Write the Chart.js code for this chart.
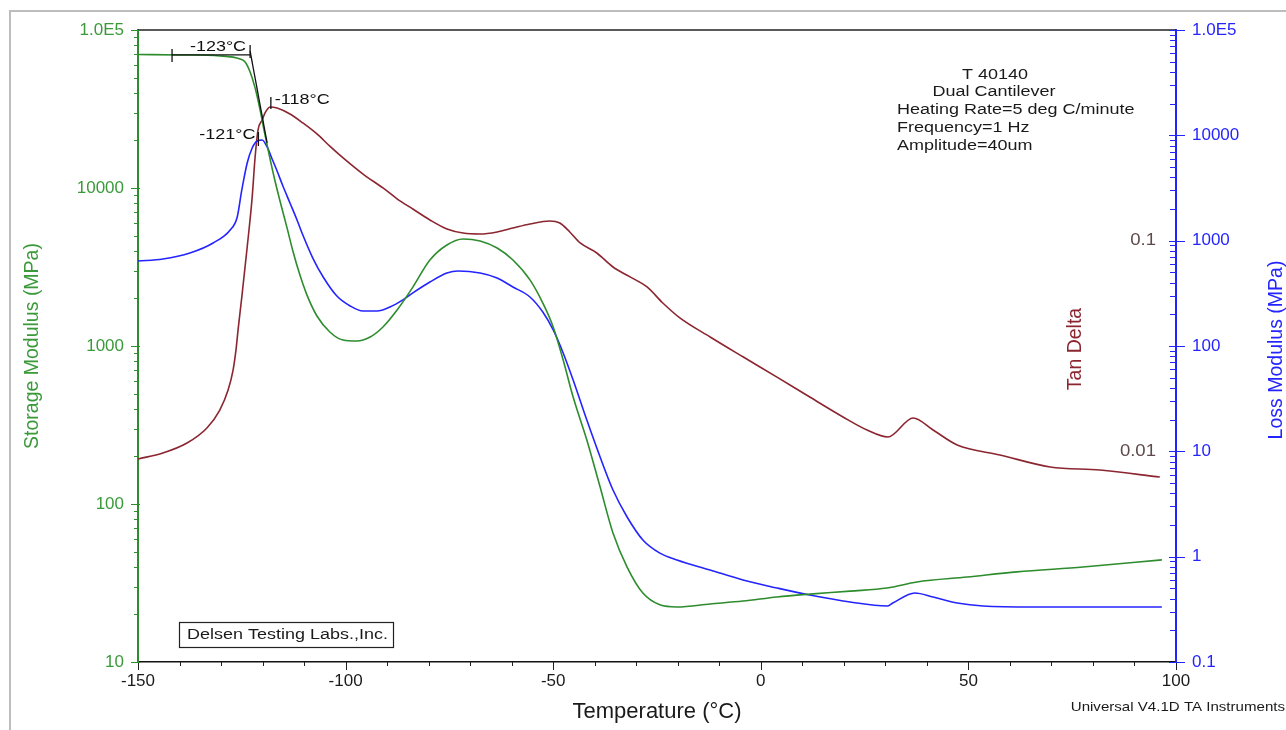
<!DOCTYPE html>
<html>
<head>
<meta charset="utf-8">
<title>DMA T 40140</title>
<script src="https://cdn.jsdelivr.net/npm/chart.js@4.4.1/dist/chart.umd.min.js"></script>
<style>
  html, body { margin: 0; padding: 0; background: #fff; }
  #wrap { position: relative; width: 1286px; height: 730px; }
</style>
</head>
<body>
<div id="wrap"><canvas id="dmaChart" width="1286" height="730"></canvas></div>
<script>
// Storage modulus (MPa), left axis
var storageTemp = [-150, -139.9, -130.3, -125.4, -124.2, -123.0, -121.8, -120.6, -119.4, -118.2,
  -117.0, -115.8, -114.1, -112.7, -111.0, -109.3, -106.9, -103.8, -100.6, -97.3,
  -94.1, -91.0, -87.6, -83.8, -79.7, -75.6, -71.7, -67.6, -63.5, -59.7,
  -55.6, -52.5, -50.0, -47.6, -45.2, -41.9, -38.7, -35.6, -32.2, -28.4,
  -24.3, -20.2, -12.2, -4.3, 3.9, 11.8, 21.5, 30.4, 37.6, 49.7,
  61.7, 77.6, 96.6];
var storageMPa = [70000, 69500, 68500, 65500, 62700, 54200, 43000, 31200, 21600, 15270,
  11070, 8280, 5590, 3990, 2810, 2100, 1549, 1227, 1090, 1075,
  1140, 1320, 1690, 2360, 3500, 4360, 4760, 4620, 4170, 3500,
  2620, 1870, 1320, 815, 475, 254, 128, 65.5, 39.9, 27.3,
  23.0, 22.3, 23.3, 24.3, 25.8, 26.9, 28.1, 29.4, 32.1, 34.5,
  37.2, 39.9, 44.3];

// Loss modulus (MPa), right axis
var lossTemp = [-150, -144.0, -137.5, -131.9, -127.8, -126.1, -125.0, -123.7, -122.5, -121.3,
  -120.1, -118.9, -117.7, -116.5, -115.1, -113.4, -111.7, -110.3, -107.9, -105.4,
  -102.1, -98.9, -95.8, -92.4, -89.3, -86.2, -83.8, -79.7, -75.6, -72.9,
  -67.6, -63.5, -59.7, -55.6, -52.5, -50.0, -47.6, -45.2, -41.9, -38.7,
  -35.6, -32.2, -28.4, -24.3, -20.2, -12.2, -4.3, 3.9, 11.8, 21.5,
  30.4, 31.8, 37.1, 41.5, 47.3, 53.5, 65.6, 96.6];
var lossMPa = [641, 670, 764, 951, 1263, 1678, 3030, 5460, 7580, 8840,
  9030, 7750, 5960, 4580, 3300, 2280, 1571, 1132, 684, 452,
  298, 240, 215, 215, 235, 274, 319, 405, 493, 516,
  493, 442, 363, 292, 210, 142, 85.8, 47.5, 19.8, 8.83,
  4.29, 2.38, 1.44, 1.08, 0.93, 0.747, 0.600, 0.504, 0.432, 0.371,
  0.340, 0.363, 0.452, 0.414, 0.363, 0.340, 0.333, 0.333];

// Tan delta
var tanTemp = [-150, -144.0, -138.2, -133.4, -130.3, -128.3, -127.1, -126.4, -125.9, -125.0,
  -123.7, -122.5, -121.8, -121.1, -120.1, -119.4, -118.2, -116.5, -113.4, -110.3,
  -106.9, -103.8, -100.6, -95.8, -91.0, -87.6, -83.8, -79.7, -75.6, -71.7,
  -67.6, -63.5, -59.7, -55.6, -50.8, -48.4, -46.0, -43.5, -39.5, -35.6,
  -31.5, -27.4, -23.6, -19.5, -12.2, -4.3, 3.9, 11.8, 19.8, 25.6,
  30.6, 36.7, 41.5, 47.3, 57.6, 69.7, 81.7, 96.1];
var tanDelta = [0.0092, 0.00982, 0.01095, 0.01291, 0.01571, 0.01954, 0.02432, 0.0303, 0.0377, 0.054,
  0.0933, 0.161, 0.249, 0.335, 0.374, 0.404, 0.431, 0.426, 0.399, 0.362,
  0.321, 0.281, 0.247, 0.207, 0.178, 0.158, 0.1413, 0.1254, 0.1136, 0.1087,
  0.1076, 0.1100, 0.1148, 0.1200, 0.1240, 0.1213, 0.1100, 0.0975, 0.0874, 0.0750,
  0.0673, 0.0603, 0.0506, 0.0430, 0.0349, 0.0281, 0.0225, 0.0181, 0.01456, 0.01262,
  0.01169, 0.01440, 0.01262, 0.01072, 0.00961, 0.00843, 0.00815, 0.00755];

// tick labels
var storageTicks = [10, 100, 1000, 10000, 100000];
var lossTicks = [0.1, 1, 10, 100, 1000, 10000, 100000];
var tanTicks = [0.1, 0.01];

// transition markers
var onsetTemp = -123, onsetStart = -141.8, onsetLevel = 69500;
var tangentFrom = [-123, 73600], tangentTo = [-118.9, 19300];
var tanPeakTemp = -118, tanPeakValue = 0.431;
var lossPeakTemp = -121, lossPeakValue = 9030;

var infoLines = ['T 40140', 'Dual Cantilever', 'Heating Rate=5 deg C/minute', 'Frequency=1 Hz', 'Amplitude=40um'];

var GREEN = '#2d8c2d', BLUE = '#2424ff', MAROON = '#8b2630';
var FONT = '"Liberation Sans", Arial, sans-serif';
var STRETCH = 1.16; // the screenshot text is a bit wide

function pairs(xs, ys) {
  return xs.map(function (x, i) { return { x: x, y: ys[i] }; });
}

function sciLabel(v) {
  if (v >= 100000) return '1.0E5';
  return String(v);
}

function wideText(ctx, text, x, y, align) {
  ctx.save();
  ctx.translate(x, y);
  ctx.scale(STRETCH, 1);
  ctx.textAlign = align || 'left';
  ctx.fillText(text, 0, 0);
  ctx.restore();
}

function vertText(ctx, text, x, y) {
  ctx.save();
  ctx.translate(x, y);
  ctx.rotate(-Math.PI / 2);
  ctx.textAlign = 'center';
  ctx.textBaseline = 'middle';
  ctx.fillText(text, 0, 0);
  ctx.restore();
}

function line(ctx, x1, y1, x2, y2) {
  ctx.beginPath();
  ctx.moveTo(x1, y1);
  ctx.lineTo(x2, y2);
  ctx.stroke();
}

// page frame and white background
var framePlugin = {
  id: 'frame',
  beforeDraw: function (chart) {
    var ctx = chart.ctx;
    ctx.save();
    ctx.fillStyle = '#fff';
    ctx.fillRect(0, 0, chart.width, chart.height);
    ctx.strokeStyle = '#bdbdbd';
    ctx.lineWidth = 2;
    line(ctx, 10, 11, 10, chart.height);
    line(ctx, 9, 11, chart.width, 11);
    ctx.restore();
  }
};

// minor/major tick marks on all three drawn axes, plus the top frame line
var ticksPlugin = {
  id: 'dmaTicks',
  afterDraw: function (chart) {
    var ctx = chart.ctx, a = chart.chartArea;
    var xs = chart.scales.x, ys = chart.scales.yStorage, yl = chart.scales.yLoss;
    ctx.save();

    ctx.strokeStyle = '#222';
    ctx.lineWidth = 1.5;
    line(ctx, a.left, a.top, a.right, a.top);
    ctx.lineWidth = 1;

    for (var t = -150; t <= 100; t += 10) {
      var px = Math.round(xs.getPixelForValue(t)) + 0.5;
      line(ctx, px, a.bottom, px, a.bottom + (t % 50 === 0 ? 8 : 4));
    }

    ctx.strokeStyle = GREEN;
    for (var d = 10; d <= 100000; d *= 10) {
      for (var m = 1; m <= 9; m++) {
        var v = d * m;
        if (v > 100000) break;
        var py = Math.round(ys.getPixelForValue(v)) + 0.5;
        if (m === 1) line(ctx, a.left - 7, py, a.left + 2, py);
        else line(ctx, a.left - 4, py, a.left, py);
      }
    }

    ctx.strokeStyle = BLUE;
    for (var e = 0.1; e <= 100000; e *= 10) {
      for (var k = 1; k <= 9; k++) {
        var w = e * k;
        if (w > 100001) break;
        var qy = Math.round(yl.getPixelForValue(w)) + 0.5;
        if (k === 1) line(ctx, a.right - 7, qy, a.right + 9, qy);
        else line(ctx, a.right - 6, qy, a.right, qy);
      }
    }
    ctx.restore();
  }
};

// texts and the onset / peak markers
var notesPlugin = {
  id: 'dmaNotes',
  afterDraw: function (chart) {
    var ctx = chart.ctx, a = chart.chartArea;
    var xs = chart.scales.x, ys = chart.scales.yStorage, yl = chart.scales.yLoss, yt = chart.scales.yTan;
    ctx.save();
    ctx.font = '15.5px ' + FONT;
    ctx.textBaseline = 'middle';

    // onset of storage modulus drop
    ctx.strokeStyle = '#111';
    ctx.lineWidth = 1.3;
    var x0 = xs.getPixelForValue(onsetStart), x1 = xs.getPixelForValue(onsetTemp);
    var yb = ys.getPixelForValue(onsetLevel);
    line(ctx, x0, yb, x1, yb);
    line(ctx, x0, yb - 6, x0, yb + 7);
    line(ctx, x1, yb - 10, x1, yb + 3);
    line(ctx, xs.getPixelForValue(tangentFrom[0]), ys.getPixelForValue(tangentFrom[1]),
      xs.getPixelForValue(tangentTo[0]), ys.getPixelForValue(tangentTo[1]));
    ctx.fillStyle = '#111';
    wideText(ctx, '-123°C', x1 - 4, yb - 8, 'right');

    // tan delta peak
    var tx = xs.getPixelForValue(tanPeakTemp), ty = yt.getPixelForValue(tanPeakValue);
    line(ctx, tx, ty - 10, tx, ty + 2);
    wideText(ctx, '-118°C', tx + 4, ty - 7, 'left');

    // loss modulus peak
    var lx = xs.getPixelForValue(lossPeakTemp), ly = yl.getPixelForValue(lossPeakValue);
    line(ctx, lx, ly - 8, lx, ly + 6);
    wideText(ctx, '-121°C', lx - 3, ly - 5, 'right');

    // test info block
    ctx.fillStyle = '#1a1a1a';
    wideText(ctx, infoLines[0], 995, 75, 'center');
    wideText(ctx, infoLines[1], 994, 92, 'center');
    wideText(ctx, infoLines[2], 897, 110, 'left');
    wideText(ctx, infoLines[3], 897, 128, 'left');
    wideText(ctx, infoLines[4], 897, 146, 'left');

    // lab box
    ctx.strokeStyle = '#222';
    ctx.lineWidth = 1.2;
    ctx.strokeRect(179.5, 622.5, 214, 25);
    wideText(ctx, 'Delsen Testing Labs.,Inc.', 187, 635, 'left');

    // software stamp
    ctx.font = '13px ' + FONT;
    wideText(ctx, 'Universal V4.1D TA Instruments', 1285, 707, 'right');

    // tan delta labels sit next to the loss axis
    ctx.font = '16px ' + FONT;
    ctx.fillStyle = '#5e4a4a';
    tanTicks.forEach(function (v) {
      wideText(ctx, String(v), a.right - 20, yt.getPixelForValue(v), 'right');
    });

    ctx.font = '19.5px ' + FONT;
    ctx.fillStyle = MAROON;
    vertText(ctx, 'Tan Delta', 1076, 349);
    ctx.fillStyle = BLUE;
    vertText(ctx, 'Loss Modulus (MPa)', 1277, 350);
    ctx.restore();
  }
};

Chart.defaults.font.family = FONT;

new Chart(document.getElementById('dmaChart'), {
  type: 'line',
  data: {
    datasets: [
      { label: 'Storage Modulus', data: pairs(storageTemp, storageMPa), yAxisID: 'yStorage',
        borderColor: GREEN, borderWidth: 1.6 },
      { label: 'Loss Modulus', data: pairs(lossTemp, lossMPa), yAxisID: 'yLoss',
        borderColor: BLUE, borderWidth: 1.6 },
      { label: 'Tan Delta', data: pairs(tanTemp, tanDelta), yAxisID: 'yTan',
        borderColor: MAROON, borderWidth: 1.6 }
    ]
  },
  options: {
    responsive: false,
    animation: false,
    layout: { padding: { top: 30, left: 0, right: 0, bottom: 0 } },
    elements: { point: { radius: 0 }, line: { cubicInterpolationMode: 'monotone' } },
    plugins: { legend: { display: false }, tooltip: { enabled: false } },
    scales: {
      x: {
        type: 'linear', min: -150, max: 100,
        grid: { display: false, drawTicks: false },
        border: { color: '#111', width: 1.5 },
        ticks: { stepSize: 50, color: '#1a1a1a', font: { size: 17 }, padding: 9, maxRotation: 0 },
        title: { display: true, text: 'Temperature (°C)', color: '#1a1a1a', font: { size: 22 },
          padding: { top: 0, bottom: 5 } },
        afterFit: function (s) { s.height = 68; }
      },
      yStorage: {
        type: 'logarithmic', position: 'left', min: 10, max: 100000,
        grid: { display: false, drawTicks: false },
        border: { color: GREEN, width: 2 },
        afterBuildTicks: function (s) { s.ticks = storageTicks.map(function (v) { return { value: v }; }); },
        ticks: { color: '#3a9a3a', font: { size: 17 }, padding: 14, autoSkip: false,
          callback: function (v) { return sciLabel(v); } },
        title: { display: true, text: 'Storage Modulus (MPa)', color: '#3a9a3a', font: { size: 19.5 },
          padding: { top: 21, bottom: 0 } },
        afterFit: function (s) { s.width = 138; }
      },
      yLoss: {
        type: 'logarithmic', position: 'right', min: 0.1, max: 100000,
        grid: { display: false, drawTicks: false },
        border: { color: BLUE, width: 2 },
        afterBuildTicks: function (s) { s.ticks = lossTicks.map(function (v) { return { value: v }; }); },
        ticks: { color: BLUE, font: { size: 17 }, padding: 16, autoSkip: false,
          callback: function (v) { return sciLabel(v); } },
        afterFit: function (s) { s.width = 110; }
      },
      yTan: {
        type: 'logarithmic', display: false, min: 0.001, max: 1
      }
    }
  },
  plugins: [framePlugin, ticksPlugin, notesPlugin]
});
</script>
</body>
</html>
